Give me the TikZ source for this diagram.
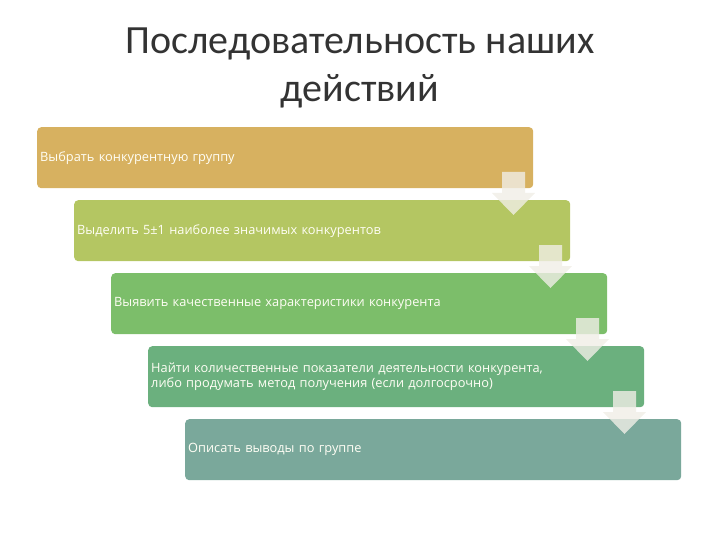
\documentclass[tikz,border=0pt]{standalone}
\usepackage{fontspec}
\setmainfont{Carlito}
\newfontfamily\boxfont{Open Sans}
\usetikzlibrary{positioning}

\definecolor{stepgold}{RGB}{215,177,96}
\definecolor{steplime}{RGB}{180,198,98}
\definecolor{stepgreen}{RGB}{124,190,106}
\definecolor{stepsea}{RGB}{107,176,126}
\definecolor{stepteal}{RGB}{122,168,155}
\definecolor{arrowpale}{RGB}{240,238,230}

\begin{document}
\begin{tikzpicture}[x=1pt,y=-1pt]
\tikzstyle{every node}+=[inner sep=0pt]
\tikzstyle{stepbox}=[rounded corners=4pt, minimum width=496pt, minimum height=61pt,
  text width=490pt, align=left, anchor=north west, text=white!96!yellow,
  font=\boxfont\fontsize{12.8}{15.5}\selectfont]
\tikzstyle{downarrow}=[fill=arrowpale, fill opacity=0.8]
\useasboundingbox (0,0) rectangle (720,540);
% title
\node[font=\fontsize{40}{48}\selectfont, align=center, text=black!80] (title) at (360,68)
  {Последовательность наших\\действий};
% steps
\node[stepbox, fill=stepgold] (b1) at (37,127) {Выбрать конкурентную группу};
\node[stepbox, fill=steplime] (b2) at (74,200) {Выделить 5±1 наиболее значимых конкурентов};
\node[stepbox, fill=stepgreen] (b3) at (111,273) {Выявить качественные характеристики конкурента};
\node[stepbox, fill=stepsea] (b4) at (148,346) {Найти количественные показатели деятельности конкурента,\\либо продумать метод получения (если долгосрочно)};
\node[stepbox, fill=stepteal] (b5) at (185,419) {Описать выводы по группе};
% arrows between steps
\foreach \i in {0,...,3}
  \fill[downarrow, shift={(37*\i,73*\i)}] (502,172) -- (525,172) -- (525,193) -- (535,193)
    -- (513.5,215) -- (492,193) -- (502,193) -- cycle;
\end{tikzpicture}
\end{document}
